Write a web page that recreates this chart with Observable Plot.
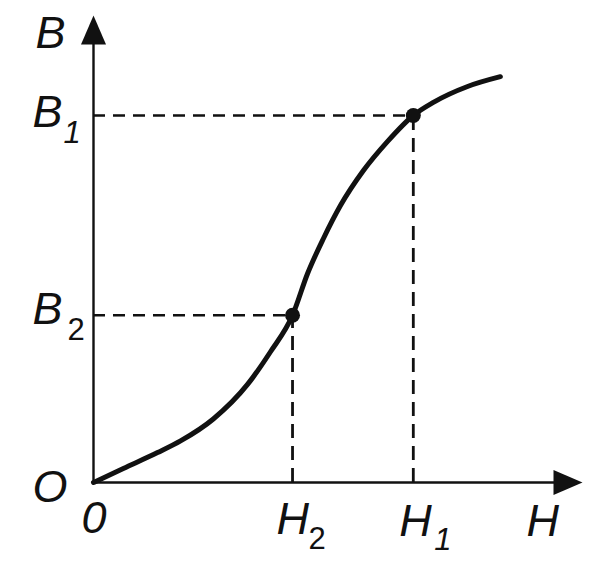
<!DOCTYPE html>
<html>
<head>
<meta charset="utf-8">
<script src="https://cdn.jsdelivr.net/npm/d3@7"></script>
<script src="https://cdn.jsdelivr.net/npm/@observablehq/plot@0.6"></script>
<style>
  html, body { margin: 0; padding: 0; background: #fff; }
  svg { display: block; }
</style>
</head>
<body>
<div id="chart"></div>
<script>
// Magnetization curve B(H) (arbitrary units 0..100)
const curveH = [0, 6.1, 13.1, 17.8, 24.5, 31.5, 36.2, 40.7, 43.8, 47.0, 50.5, 55.2, 60.1, 65.4, 69.5, 76.5, 83.2];
const curveB = [0, 3.0, 6.4, 8.9, 13.6, 21.0, 28.0, 35.8, 44.8, 52.2, 59.3, 66.8, 73.0, 78.6, 81.4, 84.8, 86.9];

// Marked points (subscript, H, B)
const pointNames = ["2", "1"];
const pointH = [40.7, 65.4];
const pointB = [35.8, 78.6];

// Axis extents
const axisMax = 100;
const axisLineEnd = 95;

const curve = curveH.map((h, i) => ({h, b: curveB[i]}));
const points = pointNames.map((n, i) => ({name: n, h: pointH[i], b: pointB[i]}));
const p2 = [points[0]], p1 = [points[1]];

const arrowUp = {
  draw(ctx) { ctx.moveTo(0, 0); ctx.lineTo(12.5, 29); ctx.lineTo(-12.5, 29); ctx.closePath(); }
};
const arrowRight = {
  draw(ctx) { ctx.moveTo(0, 0); ctx.lineTo(-29, -12.5); ctx.lineTo(-29, 12.5); ctx.closePath(); }
};

const font = "'Liberation Sans', Arial, sans-serif";
const big = 45, small = 31;
const ink = "#111";

function label(data, opts) {
  return Plot.text(data, {
    fontFamily: font, textAnchor: "start", lineAnchor: "bottom",
    fill: ink, ...opts
  });
}

const chart = Plot.plot({
  width: 615,
  height: 567,
  marginLeft: 93,
  marginRight: 33,
  marginTop: 15,
  marginBottom: 85,
  x: {domain: [0, axisMax], axis: null},
  y: {domain: [0, axisMax], axis: null},
  style: {background: "#fff", overflow: "visible"},
  marks: [
    // dashed guides
    Plot.ruleY(points, {y: "b", x1: 0, x2: "h", stroke: ink, strokeWidth: 2.6, strokeDasharray: "12,8"}),
    Plot.ruleX(points, {x: "h", y1: 0, y2: "b", stroke: ink, strokeWidth: 2.8, strokeDasharray: "14,8"}),
    // axes
    Plot.ruleX([0], {y1: 0, y2: axisLineEnd, stroke: ink, strokeWidth: 2.4}),
    Plot.ruleY([0], {x1: 0, x2: axisLineEnd, stroke: ink, strokeWidth: 2.4}),
    Plot.dot([{x: 0, y: axisMax}], {x: "x", y: "y", symbol: arrowUp, fill: ink, stroke: null, r: 10}),
    Plot.dot([{x: axisMax, y: 0}], {x: "x", y: "y", symbol: arrowRight, fill: ink, stroke: null, r: 10}),
    // curve
    Plot.line(curve, {x: "h", y: "b", curve: "monotone-x", stroke: ink, strokeWidth: 5, strokeLinecap: "round"}),
    Plot.dot(points, {x: "h", y: "b", r: 7.5, fill: ink, stroke: null}),
    // axis titles
    label([{x: 0, y: axisMax}], {x: "x", y: "y", text: () => "B", fontSize: big, fontStyle: "italic", dx: -58, dy: 32}),
    label([{x: axisMax, y: 0}], {x: "x", y: "y", text: () => "H", fontSize: big, fontStyle: "italic", dx: -56, dy: 53}),
    label([{x: 0, y: 0}], {x: "x", y: "y", text: () => "O", fontSize: big, fontStyle: "italic", dx: -61, dy: 19}),
    label([{x: 0, y: 0}], {x: "x", y: "y", text: () => "0", fontSize: big, fontStyle: "italic", dx: -12, dy: 50}),
    // B1 / B2
    label(p1, {x: 0, y: "b", text: () => "B", fontSize: big, fontStyle: "italic", dx: -61, dy: 12}),
    label(p1, {x: 0, y: "b", text: "name", fontSize: small, fontStyle: "italic", dx: -30, dy: 28}),
    label(p2, {x: 0, y: "b", text: () => "B", fontSize: big, fontStyle: "italic", dx: -61, dy: 9}),
    label(p2, {x: 0, y: "b", text: "name", fontSize: small, dx: -26, dy: 25}),
    // H1 / H2
    label(p1, {x: "h", y: 0, text: () => "H", fontSize: big, fontStyle: "italic", dx: -14, dy: 53}),
    label(p1, {x: "h", y: 0, text: "name", fontSize: small, fontStyle: "italic", dx: 21, dy: 67}),
    label(p2, {x: "h", y: 0, text: () => "H", fontSize: big, fontStyle: "italic", dx: -16, dy: 51}),
    label(p2, {x: "h", y: 0, text: "name", fontSize: small, dx: 16, dy: 66})
  ]
});
document.getElementById("chart").appendChild(chart);
</script>
</body>
</html>
